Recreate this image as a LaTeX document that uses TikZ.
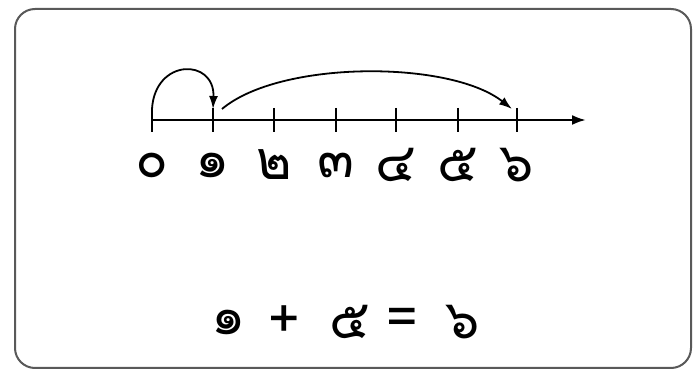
\documentclass[tikz,border=0pt]{standalone}
\usepackage{fontspec}
\newfontfamily\thaifont[Script=Thai]{Loma}
\usetikzlibrary{arrows.meta,positioning}

\begin{document}
\begin{tikzpicture}[x=1pt, y=-1pt,
  frame/.style={draw=black!65, line width=2pt, rounded corners=20pt},
  axis/.style={line width=2.4pt, -{Latex[length=14pt,width=10pt]}},
  tickmark/.style={line width=1.6pt},
  numlbl/.style={font=\thaifont\fontsize{54}{54}\selectfont, inner sep=0pt},
  hop/.style={line width=1.8pt, -{Latex[length=13pt,width=9pt]}}]
\useasboundingbox (0,0) rectangle (694,371);
% --- frame ---
\draw[frame] (15,9) rectangle (691,368);
% --- number line ---
\coordinate (start) at (152,120);
\coordinate (end) at (586,120);
\draw[axis] (start) -- (end);
\foreach \i/\x/\d in {0/152/๐, 1/213/๑, 2/274/๒, 3/336/๓, 4/396/๔, 5/458/๕, 6/517/๖} {
  \draw[tickmark] (\x,108) -- (\x,132);
  \coordinate (top\i) at (\x,109);
  \node[numlbl] (n\i) at (\x,165) {\d};
}
% --- hops ---
\draw[hop] (top0) .. controls (155,58) and (215,58) .. (top1);
\draw[hop] ([xshift=9pt]top1) .. controls (280,60) and (450,60) .. ([xshift=-5pt]top6);
% --- equation ---
\foreach \nm/\x/\s in {eqa/229/๑, plus/284/+, eqb/350/๕, equals/402/=, eqc/463/๖}
  \node[numlbl] (\nm) at (\x,322) {\s};
\end{tikzpicture}
\end{document}
